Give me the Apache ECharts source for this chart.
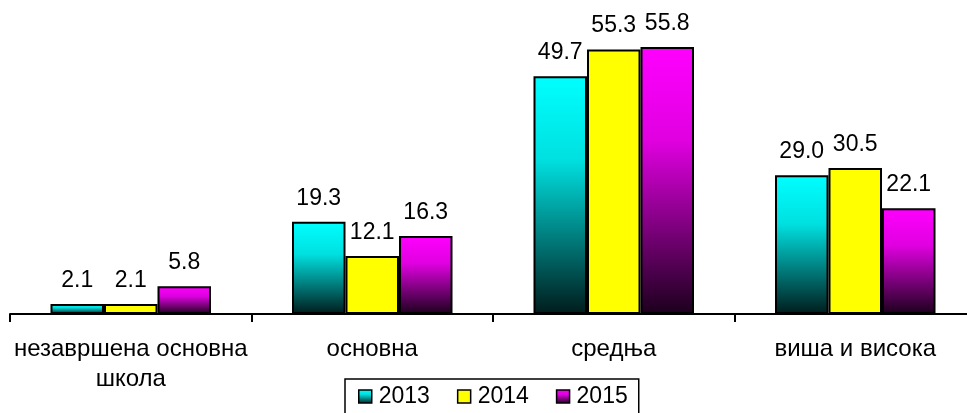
<!DOCTYPE html>
<html>
<head>
<meta charset="utf-8">
<script src="https://cdn.jsdelivr.net/npm/echarts@6/dist/echarts.min.js"></script>
<style>
html,body{margin:0;padding:0;background:#fff;}
#chart{width:967px;height:413px;}
</style>
</head>
<body>
<div id="chart"></div>
<script>
const categories = ['незавршена основна\nшкола', 'основна', 'средња', 'виша и висока'];
const seriesNames = ['2013', '2014', '2015'];
const values2013 = [2.1, 19.3, 49.7, 29.0];
const values2014 = [2.1, 12.1, 55.3, 30.5];
const values2015 = [5.8, 16.3, 55.8, 22.1];

const FONT = 'Liberation Sans, Arial, sans-serif';
function grad(top, mid, bottom) {
  return new echarts.graphic.LinearGradient(0, 0, 0, 1, [
    {offset: 0, color: top},
    {offset: 0.35, color: mid},
    {offset: 1, color: bottom}
  ]);
}
const fills = [
  grad('#00ffff', '#00e0e0', '#001c1c'),
  '#ffff00',
  grad('#ff00ff', '#e000e0', '#1c001c')
];
const data = [values2013, values2014, values2015];

const chart = echarts.init(document.getElementById('chart'), null, {renderer: 'canvas'});
chart.setOption({
  animation: false,
  backgroundColor: '#ffffff',
  textStyle: {fontFamily: FONT},
  grid: {left: 10, width: 966, top: 27, bottom: 99, containLabel: false, outerBoundsMode: 'none'},
  legend: {
    data: seriesNames,
    left: 345,
    top: 379,
    orient: 'horizontal',
    padding: [6, 11, 14, 13],
    itemWidth: 13,
    itemHeight: 13,
    itemGap: 27,
    borderColor: '#000',
    borderWidth: 1.5,
    borderRadius: 0,
    icon: 'rect',
    itemStyle: {borderColor: '#000', borderWidth: 1.5},
    textStyle: {fontSize: 23, color: '#000', fontFamily: FONT, padding: [0, 0, 0, 2]}
  },
  xAxis: {
    type: 'category',
    data: categories,
    axisLine: {lineStyle: {color: '#000', width: 2}},
    axisTick: {show: true, length: 8, lineStyle: {color: '#000', width: 2}},
    axisLabel: {fontSize: 24, color: '#000', fontFamily: FONT, margin: 20, lineHeight: 30, interval: 0}
  },
  yAxis: {
    type: 'value', min: 0, max: 60, show: false,
    splitLine: {show: false}
  },
  series: seriesNames.map((name, i) => ({
    name: name,
    type: 'bar',
    data: data[i],
    barWidth: 53.5,
    barGap: '0%',
    itemStyle: {color: fills[i], borderColor: '#000', borderWidth: 2},
    label: {
      show: true, position: 'top', distance: 12,
      fontSize: 23, color: '#000', fontFamily: FONT,
      formatter: p => p.value.toFixed(1)
    }
  }))
});
</script>
</body>
</html>
